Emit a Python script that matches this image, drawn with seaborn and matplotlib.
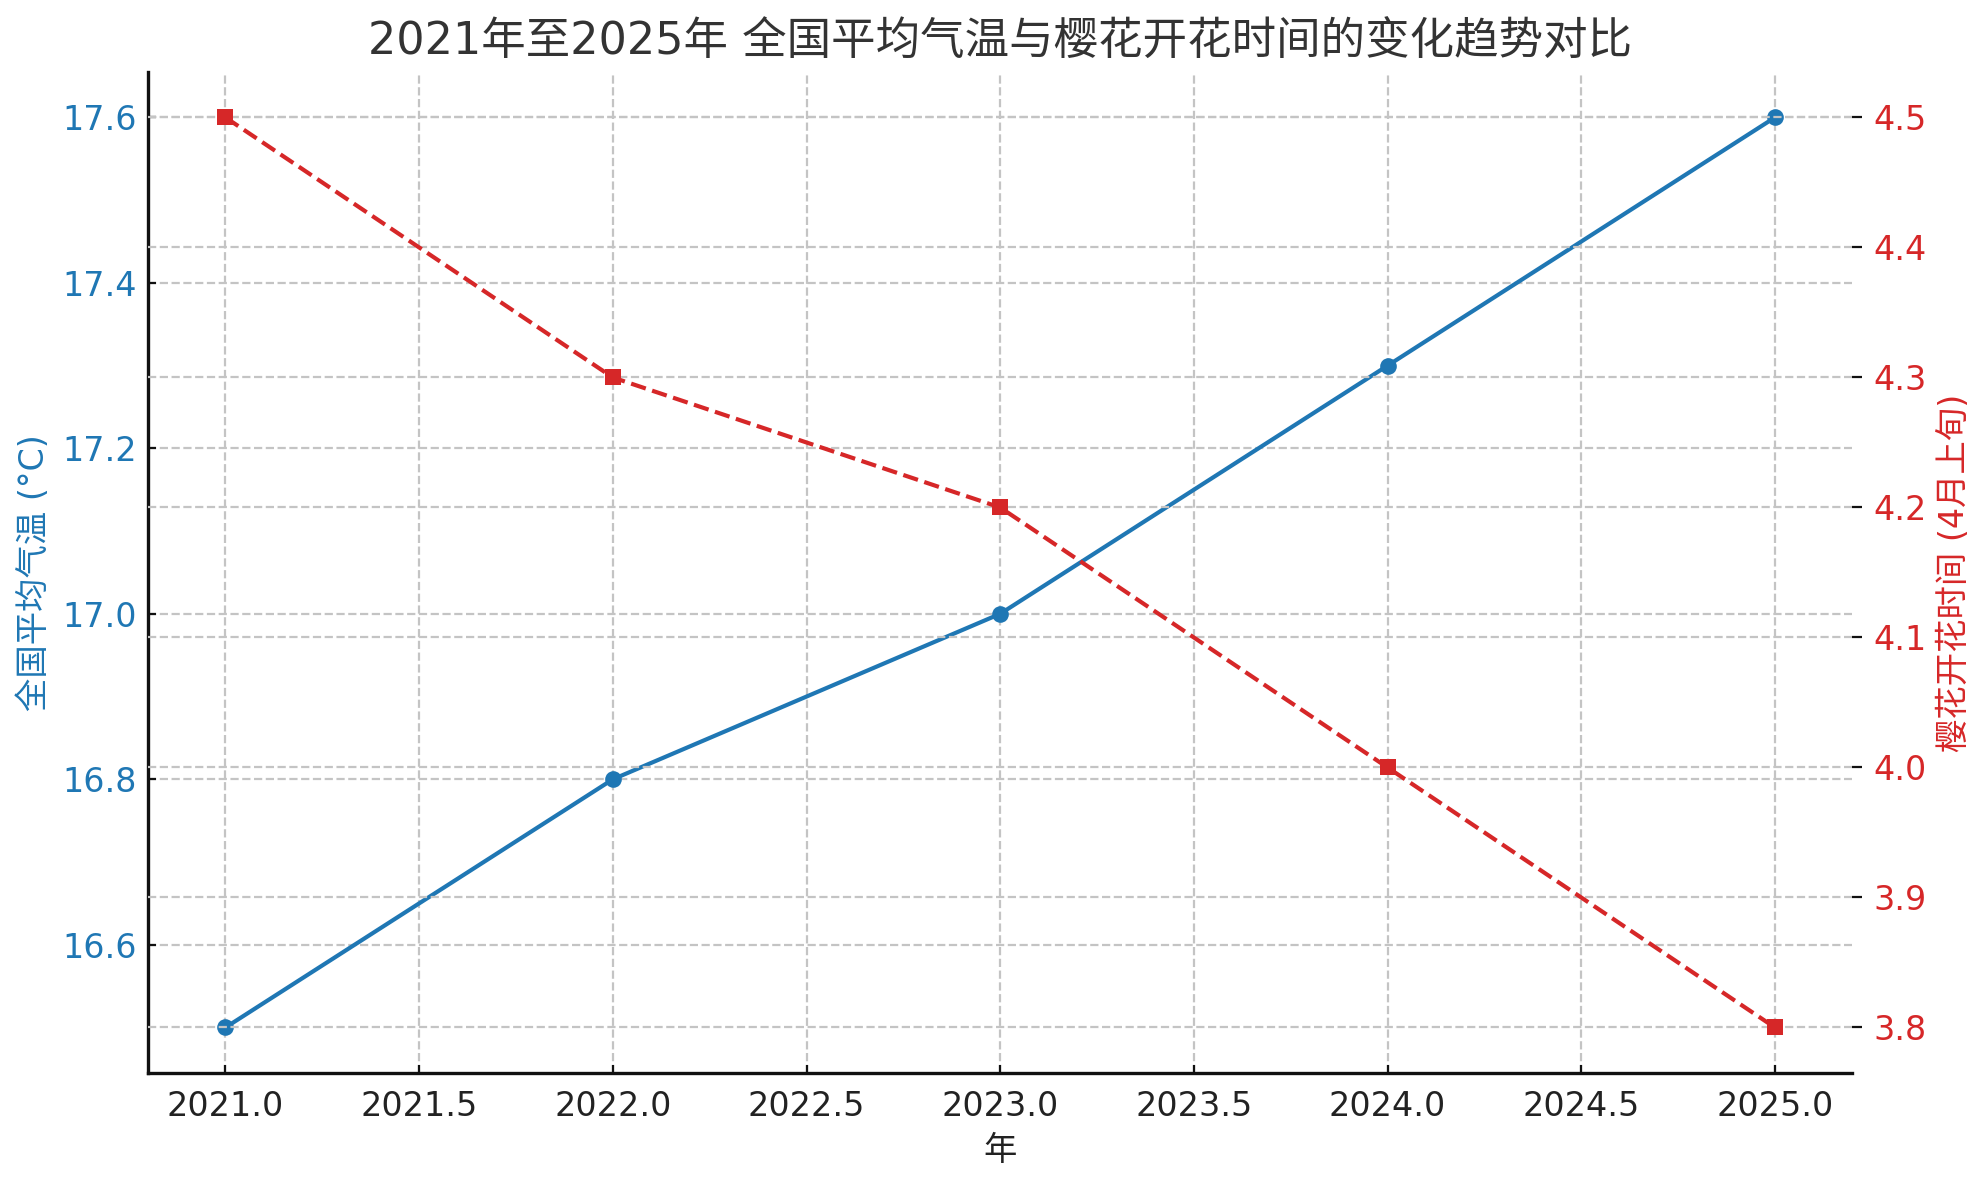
import matplotlib
matplotlib.use("Agg")
import matplotlib.pyplot as plt
import seaborn as sns
import pandas as pd

years = [2021, 2022, 2023, 2024, 2025]
temperature = [16.5, 16.8, 17.0, 17.3, 17.6]
bloom_month = [4.5, 4.3, 4.2, 4.0, 3.8]

title = "2021年至2025年 全国平均气温与樱花开花时间的变化趋势对比"
xlabel = "年"
ylabel_left = "全国平均气温 (°C)"
ylabel_right = "樱花开花时间 (4月上旬)"

sns.set_style("ticks")
plt.rcParams['font.family'] = ['DejaVu Sans', 'Noto Sans CJK SC']

df = pd.DataFrame({"year": years, "temp": temperature, "bloom": bloom_month})

blue = "#1f77b4"
red = "#d62728"

fig = plt.figure(figsize=(9.895, 5.9), dpi=200)
ax = fig.add_axes([0.0748, 0.0907, 0.8612, 0.8483])
ax2 = ax.twinx()

sns.lineplot(data=df, x="year", y="temp", ax=ax, color=blue, marker="o",
             markersize=6, linewidth=1.5, markeredgewidth=0)
sns.lineplot(data=df, x="year", y="bloom", ax=ax2, color=red, marker="s",
             markersize=6, linewidth=1.5, linestyle="--", markeredgewidth=0)

ax.set_title(title, fontsize=16, color="#333333")
ax.set_xlabel(xlabel, fontsize=12, color="#222222")
ax.set_ylabel(ylabel_left, fontsize=12, color=blue)
ax2.set_ylabel(ylabel_right, fontsize=12, color=red)

ax.tick_params(axis="y", direction="in", labelcolor=blue, labelsize=12, color="#111111", length=3, pad=4)
ax.tick_params(axis="x", direction="in", labelsize=12, labelcolor="#222222", color="#111111", length=3, pad=6)
ax2.tick_params(axis="y", labelcolor=red, labelsize=12, color="#111111", length=3.5, pad=4)

xt = [2021.0, 2021.5, 2022.0, 2022.5, 2023.0, 2023.5, 2024.0, 2024.5, 2025.0]
ax.set_xticks(xt)
ax.set_xticklabels([f"{v:.1f}" for v in xt])

for a in (ax, ax2):
    a.grid(True, linestyle="--", color="#c4c4c4", linewidth=0.8)
    a.spines["top"].set_visible(False)
    a.spines["right"].set_visible(False)
ax2.spines["left"].set_visible(False)
ax2.spines["bottom"].set_visible(False)
ax2.xaxis.grid(False)
for s in ("left", "bottom"):
    ax.spines[s].set_color("#111111")
    ax.spines[s].set_linewidth(1.2)

fig.savefig("out.png", dpi=200)
